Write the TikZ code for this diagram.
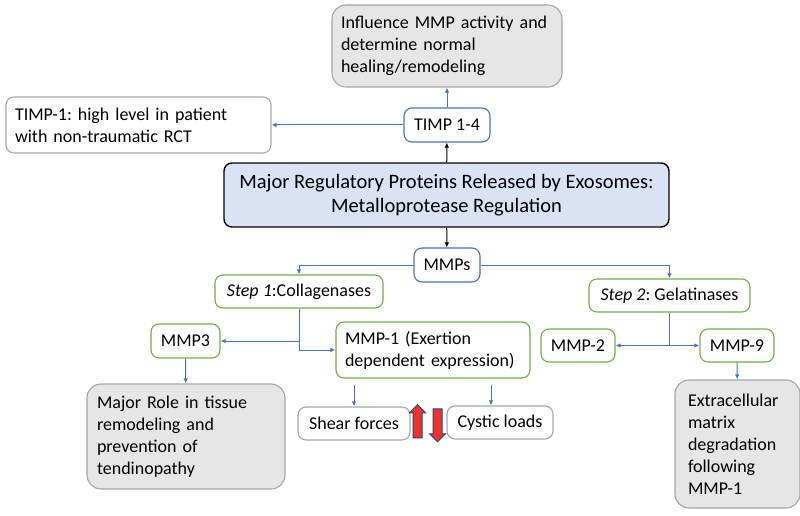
\documentclass[tikz,border=0pt]{standalone}
\usepackage{fontspec}
\setmainfont{Carlito}
\frenchspacing
\usetikzlibrary{arrows.meta, shapes.arrows}
\definecolor{boxblue}{HTML}{4472C4}
\definecolor{boxgreen}{HTML}{70AD47}
\definecolor{boxgray}{HTML}{A6A6A6}
\definecolor{fillgray}{HTML}{E7E6E6}
\definecolor{fillblue}{HTML}{DAE3F3}
\definecolor{arrowred}{HTML}{F0302A}
\begin{document}
\begin{tikzpicture}[x=1pt, y=-1pt, font=\fontsize{18}{22}\selectfont,
  box/.style={draw, rounded corners=8pt, line width=1.1pt, inner sep=0pt, align=center},
  bluebox/.style={box, draw=boxblue, minimum height=34pt},
  greenbox/.style={box, draw=boxgreen, minimum height=33pt},
  whitebox/.style={box, draw=boxgray, minimum height=33pt},
  graybox/.style={box, draw=boxgray, fill=fillgray, rounded corners=14pt, align=left},
  arr/.style={draw=boxblue, line width=1pt, -{Latex[length=5pt, width=4.5pt]}},
  blackarr/.style={arr, draw=black},
  bigarrow/.style={shape=single arrow, rotate=#1, fill=arrowred, draw=boxblue!60!black, line width=1pt, inner xsep=0pt, inner ysep=4pt, minimum height=33pt, single arrow head extend=3.5pt, font=\tiny}]

\useasboundingbox (0,0) rectangle (800,516);

\node[box, draw=black, fill=fillblue, line width=1.4pt, minimum width=445pt, minimum height=64pt, font=\fontsize{20.5}{24}\selectfont] (main) at (446.5,195) {Major Regulatory Proteins Released by Exosomes:\\Metalloprotease Regulation};

\node[bluebox, minimum width=86pt] (timp) at (447,125) {TIMP 1-4};
\node[graybox, inner xsep=9pt, text width=212pt, minimum height=82pt] (infl) at (447,46) {Influence MMP activity and\\determine normal\\healing/remodeling};
\node[whitebox, inner xsep=9pt, text width=247pt, minimum height=56pt, align=left] (timp1) at (138.5,125) {TIMP-1: high level in patient\\with non-traumatic RCT};

\node[bluebox, minimum width=66pt] (mmps) at (447,265) {MMPs};
\node[greenbox, minimum width=168pt] (step1) at (299,291.5) {\textit{Step 1}:Collagenases};
\node[greenbox, minimum width=161pt] (step2) at (669.5,295.5) {\textit{Step 2}: Gelatinases};

\node[greenbox, minimum width=69pt, minimum height=34pt] (mmp3) at (185.5,341) {MMP3};
\node[greenbox, inner xsep=9pt, text width=176pt, minimum height=56pt, align=left] (mmp1) at (433,350) {MMP-1 (Exertion\\dependent expression)};
\node[greenbox, minimum width=74pt] (mmp2) at (578,345.5) {MMP-2};
\node[greenbox, minimum width=74pt] (mmp9) at (737,345.5) {MMP-9};

\node[graybox, inner xsep=10pt, text width=178pt, minimum height=105pt] (role) at (186,436.5) {Major Role in tissue\\remodeling and\\prevention of\\tendinopathy};
\node[whitebox, minimum width=112pt] (shear) at (354,423.5) {Shear forces};
\node[whitebox, minimum width=106pt] (cystic) at (500,422.5) {Cystic loads};
\node[graybox, inner xsep=13pt, text width=99pt, minimum height=128pt] (ecm) at (737.5,444) {Extracellular\\matrix\\degradation\\following\\MMP-1};

\node[bigarrow=90] (up) at (417.5,423.5) {};
\node[bigarrow=-90] (down) at (437.5,423) {};

\draw[blackarr] (main) -- (timp);
\draw[arr] (timp) -- (infl);
\draw[arr] (timp) -- (timp1);
\draw[blackarr] (main) -- (mmps);
\draw[arr] (mmps.west) -| (step1.north);
\draw[arr] (mmps.east) -| (step2.north);
\draw[arr] (step1.south) |- (mmp3.east);
\draw[arr] (step1.south) |- (mmp1.west);
\draw[arr] (step2.south) |- (mmp2.east);
\draw[arr] (step2.south) |- (mmp9.west);
\draw[arr] (mmp3) -- (role);
\draw[arr] (mmp9) -- (ecm);
\draw[arr, shorten <=6pt] (shear.north |- mmp1.south) -- (shear.north);
\draw[arr, shorten <=6pt] ([xshift=-9pt]cystic.north |- mmp1.south) -- ([xshift=-9pt]cystic.north);
\end{tikzpicture}
\end{document}
